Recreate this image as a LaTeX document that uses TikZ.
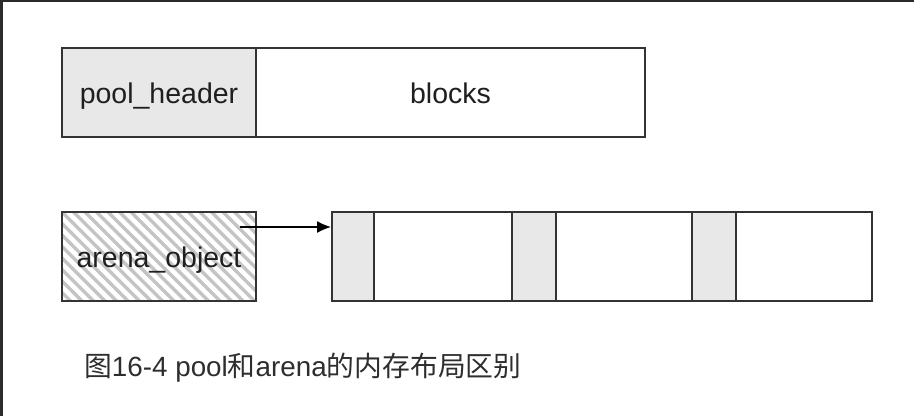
\documentclass[tikz,border=0pt]{standalone}
\usepackage{fontspec}
\setmainfont{Liberation Sans}
\newfontfamily\cjk{Noto Sans CJK SC}
\usetikzlibrary{arrows.meta,calc}
\definecolor{edge}{HTML}{333333}
\definecolor{cellgray}{HTML}{E8E8E8}
\definecolor{hatchc}{HTML}{C4C4C4}
\definecolor{framec}{HTML}{2B2B2B}
\begin{document}
\begin{tikzpicture}[x=1pt,y=-1pt,
  cell/.style={draw=edge,line width=2pt,rectangle,inner sep=0pt,minimum height=89pt,anchor=north west},
  lbl/.style={font=\fontsize{28.5}{30}\selectfont,text=black!88,text height=21pt,text depth=0pt},
  hatched/.style={path picture={
      \foreach \i in {-9,...,17}
        \draw[hatchc,line width=3.4pt] ($(path picture bounding box.north west)+(\i*11.5pt,0pt)$) -- ++(100pt,-100pt);}}]
\useasboundingbox (0,0) rectangle (914,416);
\fill[white] (0,0) rectangle (914,416);
\fill[framec] (0,0) rectangle (914,2);
\fill[framec] (0,0) rectangle (3,416);
% top row
\node[cell,fill=cellgray,minimum width=194pt,lbl] (ph) at (61,47) {pool\_header};
\node[cell,minimum width=389pt,lbl] (bl) at (255,47) {blocks};
% bottom row
\node[cell,hatched,minimum width=194pt,lbl] (ao) at (61,211) {arena\_object};
\node[cell,minimum width=540pt] (ar) at (331,211) {};
\node[cell,fill=cellgray,minimum width=42pt] (g1) at (331,211) {};
\node[cell,fill=cellgray,minimum width=44pt] (g2) at (511,211) {};
\node[cell,fill=cellgray,minimum width=44pt] (g3) at (691,211) {};
% arrow
\coordinate (s) at (240,227);
\draw[-{Latex[length=14pt,width=12pt]},line width=1.3pt,black] (s) -- (s -| g1.west);
% caption
\node[anchor=base west,inner sep=0pt,font=\fontsize{27.8}{30}\selectfont,text=black!82] (cap) at (84,376)
  {{\cjk 图}16-4 pool{\cjk 和}arena{\cjk 的内存布局区别}};
\end{tikzpicture}
\end{document}
